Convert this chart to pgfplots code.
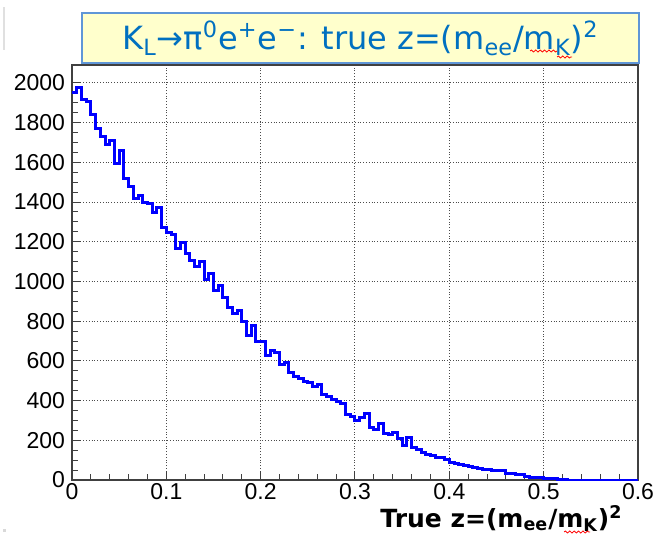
\documentclass[border=0pt]{standalone}
\usepackage{fontspec}
\setmainfont{Liberation Sans}
\newfontfamily\verd{DejaVu Sans}
\usepackage{pgfplots}
\pgfplotsset{compat=1.18}
\usetikzlibrary{decorations.pathmorphing}
\definecolor{titleblue}{RGB}{0,112,192}
\definecolor{titleframe}{RGB}{95,150,215}
\definecolor{titlefill}{RGB}{255,255,204}
\definecolor{histblue}{RGB}{0,0,255}

\pgfplotstableread{
z      n
0.000  1950
0.005  1975
0.010  1915
0.015  1905
0.020  1840
0.025  1770
0.030  1730
0.035  1690
0.040  1710
0.045  1595
0.050  1660
0.055  1520
0.060  1480
0.065  1420
0.070  1435
0.075  1400
0.080  1395
0.085  1345
0.090  1370
0.095  1270
0.100  1245
0.105  1235
0.110  1165
0.115  1195
0.120  1140
0.125  1105
0.130  1075
0.135  1100
0.140  1010
0.145  1040
0.150  955
0.155  980
0.160  920
0.165  870
0.170  840
0.175  855
0.180  800
0.185  730
0.190  780
0.195  700
0.200  695
0.205  625
0.210  650
0.215  640
0.220  580
0.225  590
0.230  540
0.235  520
0.240  510
0.245  495
0.250  490
0.255  470
0.260  480
0.265  430
0.270  420
0.275  405
0.280  395
0.285  385
0.290  330
0.295  320
0.300  300
0.305  315
0.310  335
0.315  265
0.320  255
0.325  285
0.330  235
0.335  230
0.340  240
0.345  210
0.350  175
0.355  215
0.360  165
0.365  155
0.370  140
0.375  130
0.380  125
0.385  115
0.390  112
0.395  105
0.400  88
0.405  85
0.410  80
0.415  72
0.420  66
0.425  64
0.430  60
0.435  55
0.440  55
0.445  50
0.450  50
0.455  48
0.460  35
0.465  34
0.470  30
0.475  28
0.480  20
0.485  15
0.490  14
0.495  12
0.500  8
0.505  7
0.510  6
0.515  5
0.520  3
0.525  0
0.600  0
}\histdata

\begin{document}
\begin{tikzpicture}
\useasboundingbox (0,0) rectangle (327.5pt,-267.5pt);
% stray marks at the left edge of the slide
\fill[black!12] (1.5pt,-3.5pt) rectangle (2.5pt,-25pt);
\fill[black!15] (1.5pt,-264.5pt) rectangle (3pt,-266pt);

\begin{axis}[
    at={(36pt,-240pt)}, anchor=south west,
    scale only axis, width=283pt, height=207.5pt,
    xmin=0, xmax=0.6, ymin=0, ymax=2090,
    xtick={0,0.1,...,0.6}, ytick={0,200,...,2000},
    minor x tick num=4, minor y tick num=3,
    xtick pos=lower, ytick pos=left,
    tick align=inside,
    major tick length=4.5pt, minor tick length=2.8pt,
    tick style={black!75, line width=0.5pt},
    axis line style={black!75, line width=0.8pt},
    grid=major,
    major grid style={densely dotted, black!70, line width=0.5pt},
    scaled x ticks=false, scaled y ticks=false,
    xticklabel style={/pgf/number format/fixed, /pgf/number format/precision=1, inner sep=1.5pt},
    yticklabel style={/pgf/number format/fixed, /pgf/number format/1000 sep={}},
    /pgf/number format/assume math mode=true,
    tick label style={font=\fontsize{11.5}{12}\selectfont},
    xlabel={\verd\bfseries True z=(m\textsubscript{ee}/m\textsubscript{K})\textsuperscript{2}},
    xlabel style={at={(rel axis cs:1,0)}, anchor=base east, yshift=-23.5pt, xshift=-7.5pt,
                  font=\fontsize{12.5}{12.5}\selectfont, inner sep=0pt},
]
\addplot[const plot mark left, histblue, line width=1.5pt] table[x=z, y=n] {\histdata};
\end{axis}

\node[draw=titleframe, fill=titlefill, line width=1pt, anchor=north west,
      minimum width=278.5pt, minimum height=25pt, inner sep=0pt,
      text=titleblue, font=\verd\fontsize{16}{16}\selectfont]
  at (40.5pt,-6pt)
  {K\textsubscript{L}→π\textsuperscript{0}e\textsuperscript{+}e\textsuperscript{−}: true z=(m\textsubscript{ee}/m\textsubscript{K})\textsuperscript{2}};

% spell-check squiggles
\draw[red, line width=0.4pt, decorate, decoration={snake, amplitude=0.5pt, segment length=2.2pt}]
  (265pt,-25.5pt) -- (278.5pt,-25.5pt);
\draw[red, line width=0.4pt, decorate, decoration={snake, amplitude=0.5pt, segment length=2.2pt}]
  (278.5pt,-28.5pt) -- (286pt,-28.5pt);
\draw[red, line width=0.4pt, decorate, decoration={snake, amplitude=0.5pt, segment length=2.2pt}]
  (282pt,-266pt) -- (295pt,-266pt);
\end{tikzpicture}
\end{document}
